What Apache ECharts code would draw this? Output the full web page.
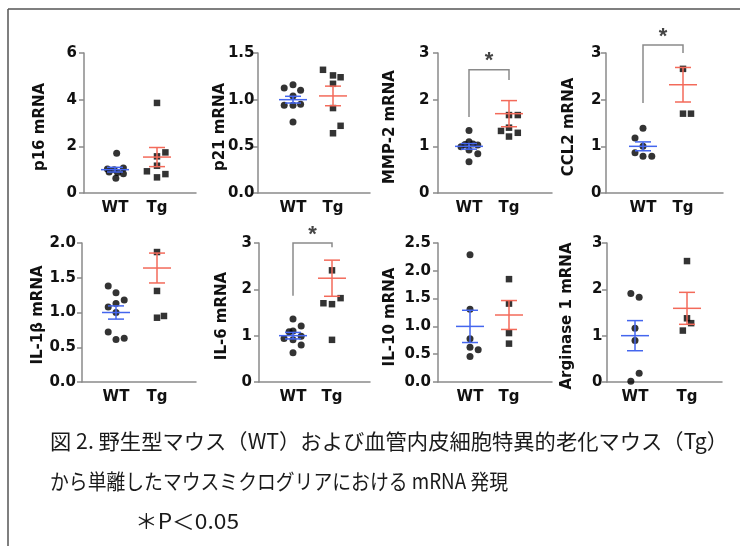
<!DOCTYPE html>
<html><head><meta charset="utf-8">
<script src="https://cdn.jsdelivr.net/npm/echarts@6/dist/echarts.min.js"></script>
<style>html,body{margin:0;padding:0;background:#fff}#c{width:740px;height:546px}</style>
</head><body><div id="c"></div>
<script>
// ---------- data ----------
const groups = ['WT', 'Tg'];
const panelNames = ['p16 mRNA', 'p21 mRNA', 'MMP-2 mRNA', 'CCL2 mRNA', 'IL-1β mRNA', 'IL-6 mRNA', 'IL-10 mRNA', 'Arginase 1 mRNA'];
const yMax = [6, 1.5, 3, 3, 2, 3, 2.5, 3];
const yStep = [2, 0.5, 1, 1, 0.5, 1, 0.5, 1];
const yDecimals = [0, 1, 0, 0, 1, 0, 1, 0];

const p16WT = [1.70, 1.03, 1.00, 1.07, 0.90, 0.88, 0.82, 0.63];
const p16WTJitter = [0.04, -0.18, -0.02, 0.2, -0.14, 0.06, 0.2, 0.02];
const p16Tg = [3.86, 1.74, 1.57, 1.17, 0.93, 0.81, 0.67];
const p16TgJitter = [0, 0.2, 0, 0, -0.24, 0.2, 0];
const p16Mean = [1.0, 1.54];
const p16Sem = [0.1, 0.41];

const p21WT = [1.16, 1.125, 1.10, 1.04, 0.94, 0.94, 0.95, 0.76];
const p21WTJitter = [0, -0.22, 0.19, 0, -0.22, 0, 0.19, 0];
const p21Tg = [1.32, 1.26, 1.24, 1.17, 0.91, 0.72, 0.64];
const p21TgJitter = [-0.25, 0, 0.19, 0, 0, 0.19, 0];
const p21Mean = [1.0, 1.04];
const p21Sem = [0.036, 0.105];

const mmp2WT = [1.34, 1.10, 1.04, 1.05, 0.99, 1.03, 0.92, 0.84, 0.67];
const mmp2WTJitter = [0, 0, -0.1, 0.1, -0.2, 0.22, 0, 0.22, 0];
const mmp2Tg = [1.67, 1.67, 1.40, 1.33, 1.29, 1.21];
const mmp2TgJitter = [0, 0.22, 0, -0.2, 0.22, 0];
const mmp2Mean = [1.0, 1.70];
const mmp2Sem = [0.06, 0.28];

const ccl2WT = [1.39, 1.18, 1.0, 0.86, 0.79, 0.79];
const ccl2WTJitter = [0, -0.2, 0, -0.2, 0, 0.22];
const ccl2Tg = [2.66, 1.70, 1.70];
const ccl2TgJitter = [0, 0, 0.2];
const ccl2Mean = [1.0, 2.32];
const ccl2Sem = [0.095, 0.37];

const il1bWT = [1.38, 1.285, 1.18, 1.08, 1.13, 1.0, 0.72, 0.61, 0.63];
const il1bWTJitter = [-0.19, 0, 0.2, -0.19, 0, 0, -0.19, 0, 0.2];
const il1bTg = [1.87, 1.31, 0.925, 0.95];
const il1bTgJitter = [0, 0, 0, 0.17];
const il1bMean = [1.0, 1.64];
const il1bSem = [0.095, 0.215];

const il6WT = [1.36, 1.21, 1.085, 1.10, 0.94, 0.91, 0.99, 0.80, 0.63];
const il6WTJitter = [0, 0.21, -0.1, 0, -0.23, 0, 0.21, 0.21, 0];
const il6Tg = [2.41, 1.70, 1.68, 1.81, 0.91];
const il6TgJitter = [0, -0.22, 0, 0.22, 0];
const il6Mean = [1.0, 2.24];
const il6Sem = [0.07, 0.39];

const il10WT = [2.29, 1.31, 0.776, 0.626, 0.58, 0.46];
const il10WTJitter = [0, 0, 0, 0, 0.21, 0];
const il10Tg = [1.85, 1.41, 0.88, 0.69];
const il10TgJitter = [0, 0, 0, 0];
const il10Mean = [1.0, 1.205];
const il10Sem = [0.29, 0.26];

const arg1WT = [1.91, 1.83, 1.16, 0.895, 0.19, 0.014];
const arg1WTJitter = [-0.08, 0.08, 0, 0, 0.08, -0.08];
const arg1Tg = [2.61, 1.375, 1.27, 1.11];
const arg1TgJitter = [0, 0, 0.08, -0.08];
const arg1Mean = [1.0, 1.59];
const arg1Sem = [0.325, 0.345];

// significance brackets: panel index, [left foot, top, right foot, star]
const bracketPanels = [2, 3, 5];
const bracketValues = [
  [1.63, 2.64, 2.42, 2.92],
  [1.93, 3.17, 3.0, 3.42],
  [1.86, 3.0, 2.91, 3.25]
];

const captionLines = [
  '図 2. 野生型マウス（WT）および血管内皮細胞特異的老化マウス（Tg）',
  'から単離したマウスミクログリアにおける mRNA 発現',
  '＊P＜0.05'
];

// ---------- assembly ----------
const wtSets = [p16WT, p21WT, mmp2WT, ccl2WT, il1bWT, il6WT, il10WT, arg1WT];
const wtJit = [p16WTJitter, p21WTJitter, mmp2WTJitter, ccl2WTJitter, il1bWTJitter, il6WTJitter, il10WTJitter, arg1WTJitter];
const tgSets = [p16Tg, p21Tg, mmp2Tg, ccl2Tg, il1bTg, il6Tg, il10Tg, arg1Tg];
const tgJit = [p16TgJitter, p21TgJitter, mmp2TgJitter, ccl2TgJitter, il1bTgJitter, il6TgJitter, il10TgJitter, arg1TgJitter];
const means = [p16Mean, p21Mean, mmp2Mean, ccl2Mean, il1bMean, il6Mean, il10Mean, arg1Mean];
const sems = [p16Sem, p21Sem, mmp2Sem, ccl2Sem, il1bSem, il6Sem, il10Sem, arg1Sem];

// layout: left, top, width, height, wtX, tgX, tickLabelMargin, nameCenterX, nameCenterY
const layout = [
  [84, 53, 112, 140, 115, 157, 7, 40, 127],
  [258, 53, 112, 140, 293, 333, 3.5, 220, 127],
  [438, 53, 114, 140, 469, 509, 8.5, 390, 127],
  [606, 53, 117, 140, 643, 683, 4.5, 569, 127],
  [82, 243, 114, 139, 116, 157, 6, 38, 315],
  [259, 243, 111, 139, 293, 332, 7, 222, 316],
  [438, 243, 114, 139, 470, 509, 7, 390, 317],
  [607, 243, 115, 139, 635, 687, 4.5, 567, 316]
];

const FONT = "'DejaVu Sans', Verdana, sans-serif";
const axisColor = '#8a8a8a';
const blue = '#4466ee';
const red = '#f36a5a';

const grids = [], xAxes = [], yAxes = [], series = [], graphics = [];

layout.forEach((L, i) => {
  const [left, top, width, height, wtX, tgX, lm, nx, ny] = L;
  const unit = tgX - wtX;
  grids.push({left: left, top: top, width: width, height: height});
  xAxes.push({
    gridIndex: i, type: 'value',
    min: (left - wtX) / unit, max: (left + width - wtX) / unit,
    axisLine: {show: true, onZero: false, lineStyle: {color: axisColor, width: 1.5}},
    axisTick: {show: false}, splitLine: {show: false},
    axisLabel: {customValues: [0, 1], formatter: v => groups[Math.round(v)], margin: 8,
      color: '#111', fontSize: 15, fontWeight: 'bold', fontFamily: FONT}
  });
  yAxes.push({
    gridIndex: i, type: 'value', min: 0, max: yMax[i], interval: yStep[i],
    axisLine: {show: true, onZero: false, lineStyle: {color: axisColor, width: 1.5}},
    axisTick: {show: true, length: 5, lineStyle: {color: axisColor, width: 1.5}},
    splitLine: {show: false},
    axisLabel: {margin: lm, formatter: v => v.toFixed(yDecimals[i]),
      color: '#111', fontSize: 15, fontWeight: 'bold', fontFamily: FONT}
  });
  series.push({
    type: 'scatter', xAxisIndex: i, yAxisIndex: i, symbol: 'circle', symbolSize: 7,
    itemStyle: {color: '#000'}, silent: true, z: 2,
    data: wtSets[i].map((v, k) => [wtJit[i][k], v])
  });
  series.push({
    type: 'scatter', xAxisIndex: i, yAxisIndex: i, symbol: 'rect', symbolSize: 6.5,
    itemStyle: {color: '#000'}, silent: true, z: 2,
    data: tgSets[i].map((v, k) => [1 + tgJit[i][k], v])
  });
  series.push({
    type: 'custom', xAxisIndex: i, yAxisIndex: i, z: 3, silent: true, clip: false,
    data: [[0, means[i][0], sems[i][0]], [1, means[i][1], sems[i][1]]],
    renderItem: function (params, api) {
      const x = api.value(0), m = api.value(1), s = api.value(2);
      const c = api.coord([x, m]);
      const t = api.coord([x, m + s]);
      const b = api.coord([x, m - s]);
      const st = {stroke: x === 0 ? blue : red, lineWidth: 1.5};
      return {type: 'group', children: [
        {type: 'line', shape: {x1: c[0] - 14, y1: c[1], x2: c[0] + 14, y2: c[1]}, style: st},
        {type: 'line', shape: {x1: c[0], y1: t[1], x2: c[0], y2: b[1]}, style: st},
        {type: 'line', shape: {x1: c[0] - 8, y1: t[1], x2: c[0] + 8, y2: t[1]}, style: st},
        {type: 'line', shape: {x1: c[0] - 8, y1: b[1], x2: c[0] + 8, y2: b[1]}, style: st}
      ]};
    }
  });
  graphics.push({
    type: 'text', x: nx, y: ny, rotation: Math.PI / 2, silent: true,
    style: {text: panelNames[i], textAlign: 'center', textVerticalAlign: 'middle',
      fill: '#111', font: "bold 15px " + FONT}
  });
});

bracketPanels.forEach((p, j) => {
  series.push({
    type: 'custom', xAxisIndex: p, yAxisIndex: p, z: 3, silent: true, clip: false,
    data: [bracketValues[j]],
    renderItem: function (params, api) {
      const a = api.coord([0, api.value(0)]);
      const b = api.coord([0, api.value(1)]);
      const c = api.coord([1, api.value(1)]);
      const d = api.coord([1, api.value(2)]);
      const s = api.coord([0.5, api.value(3)]);
      return {type: 'group', children: [
        {type: 'polyline', shape: {points: [a, b, c, d]}, style: {stroke: '#8a8a8a', lineWidth: 1.5, fill: null}},
        {type: 'text', x: s[0], y: s[1] + 4, style: {text: '*', textAlign: 'center', textVerticalAlign: 'middle',
          fill: '#444', font: "bold 22px 'Liberation Sans', Arial, sans-serif"}}
      ]};
    }
  });
});

// frame
graphics.push({type: 'line', silent: true, shape: {x1: 8, y1: 9, x2: 740, y2: 9}, style: {stroke: '#555', lineWidth: 1.5}});
graphics.push({type: 'line', silent: true, shape: {x1: 8, y1: 9, x2: 8, y2: 546}, style: {stroke: '#555', lineWidth: 1.5}});

// caption
const capFont = "21px 'Noto Sans CJK JP', sans-serif";
const capPos = [[50, 441, 678], [50, 481, 458], [135, 521, 104]];
const mctx = document.createElement('canvas').getContext('2d');
mctx.font = capFont;
captionLines.forEach((t, k) => {
  const w = mctx.measureText(t).width;
  graphics.push({
    type: 'text', x: capPos[k][0], y: capPos[k][1], scaleX: capPos[k][2] / w, silent: true,
    style: {text: t, textAlign: 'left', textVerticalAlign: 'middle', fill: '#1a1a1a', font: capFont}
  });
});

const chart = echarts.init(document.getElementById('c'));
chart.setOption({
  backgroundColor: '#fff',
  animation: false,
  grid: grids, xAxis: xAxes, yAxis: yAxes, series: series,
  graphic: graphics
});
</script></body></html>
